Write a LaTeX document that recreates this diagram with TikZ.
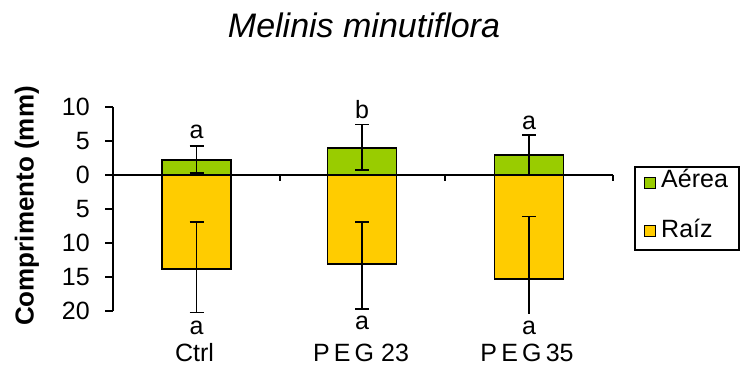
\documentclass[tikz,border=0pt]{standalone}
\usepackage{fontspec}
\setmainfont{Liberation Sans}
\usetikzlibrary{positioning}
\definecolor{MyShoot}{RGB}{153,204,0}
\definecolor{MyRoot}{RGB}{255,204,0}
\tikzset{
    shoot/.style={
      draw=black,
      line width=1.6pt,
      fill=MyShoot
    },
    root/.style={
      draw=black,
      line width=1.6pt,
      fill=MyRoot
    },
    axis/.style={line width=1.4pt},
    errbar/.style={line width=1.6pt},
    lbl/.style={font=\fontsize{25}{25}\selectfont, inner sep=0pt},
}

\begin{document}
\begin{tikzpicture}[x=1pt,y=1pt]
    \useasboundingbox (0,0) rectangle (741,366);

    \node[lbl, font=\fontsize{34}{34}\selectfont\itshape] (title) at (364,341) {Melinis minutiflora};
    \node[lbl, font=\fontsize{26}{26}\selectfont\bfseries, rotate=90] (ylab) at (27,160) {Comprimento (mm)};

    \begin{scope}[shift={(0,191)}, y=6.8pt]
      % bars
      \foreach \c/\g/\r in {196.5/2.2/13.8, 362/4.0/13.1, 529/2.9/15.3} {
        \draw[root] (\c-34.5,0) rectangle (\c+34.5,-\r);
        \draw[shoot] (\c-34.5,0) rectangle (\c+34.5,\g);
      }

      % error bars
      \draw[errbar] (196.5,0.3) -- (196.5,4.3);
      \draw[errbar] (189.5,4.3) -- (203.5,4.3);
      \draw[errbar] (189.5,0.3) -- (203.5,0.3);
      \draw[errbar] (196.5,-6.9) -- (196.5,-20.2);
      \draw[errbar] (189.5,-6.9) -- (203.5,-6.9);
      \draw[errbar] (189.5,-20.2) -- (203.5,-20.2);

      \draw[errbar] (362,0.7) -- (362,7.4);
      \draw[errbar] (355,7.4) -- (369,7.4);
      \draw[errbar] (355,0.7) -- (369,0.7);
      \draw[errbar] (362,-6.9) -- (362,-19.7);
      \draw[errbar] (355,-6.9) -- (369,-6.9);
      \draw[errbar] (355,-19.7) -- (369,-19.7);

      \draw[errbar] (529,0) -- (529,5.9);
      \draw[errbar] (522,5.9) -- (536,5.9);
      \draw[errbar] (529,-6.1) -- (529,-20.4);
      \draw[errbar] (522,-6.1) -- (536,-6.1);

      % axes
      \draw[axis] (113,10) -- (113,-20);
      \foreach \v/\t in {10/10,5/5,0/0,-5/5,-10/10,-15/15,-20/20} {
        \draw[axis] (105,\v) -- (113,\v);
        \node[lbl, anchor=east] (tick\t) at (90,\v) {\t};
      }
      \draw[axis] (113,0) -- (613,0);
      \foreach \x in {280,445,613} {
        \draw[axis] (\x,0) -- ++(0pt,-6pt);
      }

      % letters
      \node[lbl] (ctrlS) at (196.5,6.3) {a};
      \node[lbl] (ctrlR) at (196.5,-22.5) {a};
      \node[lbl] (pegaS) at (362,9.6) {b};
      \node[lbl] (pegaR) at (362,-21.8) {a};
      \node[lbl] (pegbS) at (529,7.6) {a};
      \node[lbl] (pegbR) at (529,-22.5) {a};
    \end{scope}

    \node[lbl, anchor=base] (ctrl) at (194.5,4) {Ctrl};
    \node[lbl, anchor=base] (pega) at (361,4) {P\,E\,G 23};
    \node[lbl, anchor=base] (pegb) at (527,4) {P\,E\,G\,35};

    % legend
    \draw[line width=1.2pt] (635,116) rectangle (739,199);
    \draw[line width=1pt, fill=MyShoot] (644.5,177.5) rectangle (655.5,188.5);
    \draw[line width=1pt, fill=MyRoot] (644.5,129.5) rectangle (655.5,140.5);
    \node[lbl, anchor=base west] (aerea) at (661,178) {Aérea};
    \node[lbl, anchor=base west] (raiz) at (661,128) {Raíz};
\end{tikzpicture}
\end{document}
